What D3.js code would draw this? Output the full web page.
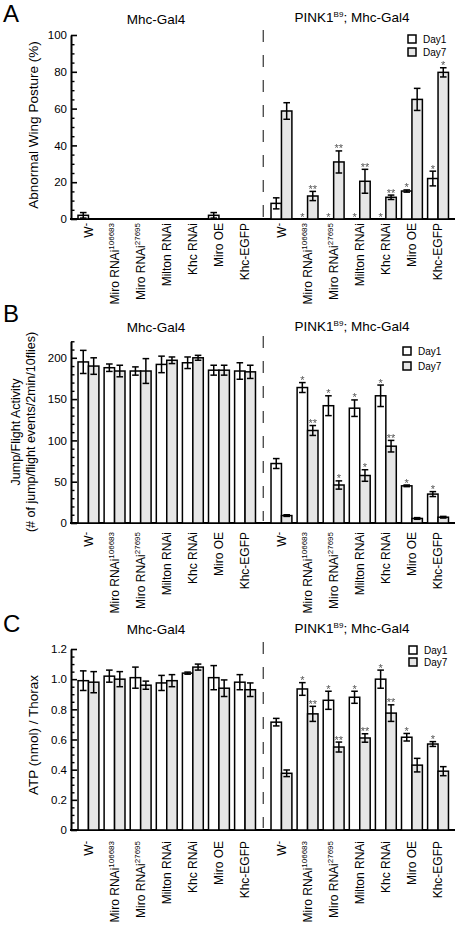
<!DOCTYPE html>
<html><head><meta charset="utf-8">
<script src="https://cdn.jsdelivr.net/npm/d3@7"></script>
<style>
body{margin:0;background:#fff}
svg{display:block;font-family:"Liberation Sans",Arial,Helvetica,sans-serif}
</style>
</head><body><svg id="c" width="456" height="927"></svg>
<script>
// ---------- categories ----------
const categories   = ["W", "Miro RNAi", "Miro RNAi", "Milton RNAi", "Khc RNAi", "Miro OE", "Khc-EGFP"];
const categorySups = ["-", "106683", "27695", "", "", "", ""];
const groupTitles  = ["Mhc-Gal4", "PINK1"];
const seriesNames  = ["Day1", "Day7"];

// ---------- A: Abnormal wing posture (%) ----------
const wingCtrlDay1    = [2, 0, 0, 0, 0, 2, 0];
const wingCtrlDay1Err = [1.5, 0, 0, 0, 0, 1.5, 0];
const wingCtrlDay7    = [0, 0, 0, 0, 0, 0, 0];
const wingCtrlDay7Err = [0, 0, 0, 0, 0, 0, 0];
const wingPinkDay1    = [8.5, 0, 0, 0, 0, 15.2, 22];
const wingPinkDay1Err = [3, 0, 0, 0, 0, 0.6, 4];
const wingPinkDay7    = [58.7, 12.5, 31, 20.5, 11.8, 65, 79.7];
const wingPinkDay7Err = [4.5, 2.5, 6, 6.5, 1.2, 6, 2.5];
const wingSigDay1     = ["", "*", "*", "*", "*", "*", "*"];
const wingSigDay7     = ["", "**", "**", "**", "**", "", "*"];
const wingTicks       = [0, 20, 40, 60, 80, 100];

// ---------- B: Jump/flight activity ----------
const jumpCtrlDay1    = [195, 188, 184, 192, 194, 185, 184];
const jumpCtrlDay1Err = [14, 4.5, 5, 10, 7, 6, 10];
const jumpCtrlDay7    = [190, 184, 184, 197, 200, 185, 183];
const jumpCtrlDay7Err = [10, 7, 15, 4, 3, 6, 8];
const jumpPinkDay1    = [72, 164, 142, 139, 154, 45, 35];
const jumpPinkDay1Err = [6, 6, 12, 10, 13, 1, 3];
const jumpPinkDay7    = [9, 112, 46, 57.5, 93, 5.5, 7];
const jumpPinkDay7Err = [1, 6, 5, 7, 7, 1, 1];
const jumpSigDay1     = ["", "*", "*", "*", "*", "*", "*"];
const jumpSigDay7     = ["", "**", "*", "*", "**", "", ""];
const jumpTicks       = [0, 50, 100, 150, 200];

// ---------- C: ATP (nmol) / Thorax ----------
const atpCtrlDay1    = [0.99, 1.02, 1.01, 0.975, 1.04, 1.01, 0.98];
const atpCtrlDay1Err = [0.065, 0.04, 0.07, 0.05, 0.007, 0.08, 0.05];
const atpCtrlDay7    = [0.98, 1.0, 0.96, 0.99, 1.08, 0.94, 0.93];
const atpCtrlDay7Err = [0.07, 0.05, 0.027, 0.04, 0.02, 0.055, 0.045];
const atpPinkDay1    = [0.715, 0.935, 0.86, 0.88, 1.0, 0.615, 0.57];
const atpPinkDay1Err = [0.025, 0.042, 0.06, 0.04, 0.06, 0.025, 0.016];
const atpPinkDay7    = [0.376, 0.77, 0.55, 0.61, 0.775, 0.43, 0.39];
const atpPinkDay7Err = [0.022, 0.05, 0.033, 0.028, 0.055, 0.045, 0.03];
const atpSigDay1     = ["", "*", "*", "*", "*", "*", "*"];
const atpSigDay7     = ["", "**", "**", "**", "**", "", ""];
const atpTicks       = [0, 0.2, 0.4, 0.6, 0.8, 1.0, 1.2];

// ---------- drawing ----------
const svg = d3.select("#c");
svg.append("defs").append("filter").attr("id", "gray").attr("x", "-20%").attr("y", "-20%")
  .attr("width", "140%").attr("height", "140%").append("feOffset").attr("dx", 0).attr("dy", 0);
const ids = categories.map((c, i) => c + categorySups[i]);
const AXIS_X = 71, X_END = 455;
const xLeft  = d3.scaleBand().domain(ids).range([72.8, 260.7]).padding(0.2);
const xRight = d3.scaleBand().domain(ids).range([265.8, 453.7]).padding(0.2);
const xSub   = d3.scaleBand().domain(seriesNames).range([0, xLeft.bandwidth()]);
const fills  = {Day1: "#ffffff", Day7: "#e6e6e6"};
const dashX  = (xLeft.range()[1] + xRight.range()[0]) / 2;

function drawPanel(cfg) {
  const g = svg.append("g");
  const y = d3.scaleLinear().domain([0, cfg.max]).range([cfg.y0, cfg.yTop]);

  // panel letter
  g.append("text").attr("x", 3).attr("y", cfg.letterY).attr("font-size", 24).text(cfg.letter);

  // group titles
  g.append("text").attr("x", 156).attr("y", cfg.titleY[0]).attr("text-anchor", "middle")
    .attr("font-size", 13.5).text(groupTitles[0]);
  const t2 = g.append("text").attr("x", 352).attr("y", cfg.titleY[1]).attr("text-anchor", "middle")
    .attr("font-size", 13.5);
  t2.append("tspan").text(groupTitles[1]);
  t2.append("tspan").attr("font-size", 8).attr("dy", -5).text("B9");
  t2.append("tspan").attr("dy", 5).text("; Mhc-Gal4");

  // y axis (inward ticks)
  const minorVals = d3.range(0, cfg.max + 1e-9, cfg.minor).filter(v => !cfg.ticks.some(t => Math.abs(t - v) < 1e-9));
  const ay = g.append("g").attr("transform", `translate(${AXIS_X},0)`)
    .call(d3.axisLeft(y).tickValues(cfg.ticks).tickSizeInner(-6).tickSizeOuter(0).tickPadding(4).tickFormat(cfg.fmt));
  ay.select(".domain").attr("stroke-width", 2).attr("stroke", "#000");
  ay.selectAll(".tick line").attr("stroke-width", 1.6);
  ay.selectAll(".tick text").attr("font-size", 11.5).attr("font-family", "Liberation Sans, Arial, sans-serif").attr("fill", "#000");
  const am = g.append("g").attr("transform", `translate(${AXIS_X},0)`)
    .call(d3.axisLeft(y).tickValues(minorVals).tickSizeInner(-3.5).tickSizeOuter(0).tickFormat(""));
  am.select(".domain").remove();
  am.selectAll(".tick line").attr("stroke-width", 1.4);

  // x axis line
  g.append("line").attr("x1", AXIS_X - 1).attr("x2", X_END).attr("y1", cfg.y0).attr("y2", cfg.y0)
    .attr("stroke", "#000").attr("stroke-width", 2);

  // dashed separator
  g.append("line").attr("x1", dashX).attr("x2", dashX).attr("y1", cfg.dashTop).attr("y2", cfg.y0 - 2)
    .attr("stroke", "#333").attr("stroke-width", 1.2).attr("stroke-dasharray", "12,13");

  // bars
  const groupsData = [
    {x: xLeft,  vals: [cfg.c1, cfg.c7], errs: [cfg.c1e, cfg.c7e], sigs: [null, null]},
    {x: xRight, vals: [cfg.p1, cfg.p7], errs: [cfg.p1e, cfg.p7e], sigs: [cfg.s1, cfg.s7]}
  ];
  const rows = [];
  groupsData.forEach(gd => {
    ids.forEach((id, i) => {
      seriesNames.forEach((s, k) => {
        rows.push({x: gd.x(id) + xSub(s), w: xSub.bandwidth(), s,
          v: gd.vals[k][i], e: gd.errs[k][i], sig: gd.sigs[k] ? gd.sigs[k][i] : ""});
      });
    });
  });
  g.selectAll("rect.bar").data(rows.filter(r => r.v > 0)).join("rect").attr("class", "bar")
    .attr("x", r => r.x).attr("width", r => r.w)
    .attr("y", r => y(r.v)).attr("height", r => cfg.y0 - y(r.v))
    .attr("fill", r => fills[r.s]).attr("stroke", "#000").attr("stroke-width", 1.5);

  const eb = g.selectAll("g.err").data(rows.filter(r => r.e > 0)).join("g").attr("class", "err")
    .attr("stroke", "#000").attr("stroke-width", 1.5);
  eb.append("line").attr("x1", r => r.x + r.w / 2).attr("x2", r => r.x + r.w / 2)
    .attr("y1", r => y(r.v - r.e)).attr("y2", r => y(r.v + r.e));
  eb.append("line").attr("x1", r => r.x + r.w / 2 - 3.3).attr("x2", r => r.x + r.w / 2 + 3.3)
    .attr("y1", r => y(r.v - r.e)).attr("y2", r => y(r.v - r.e));
  eb.append("line").attr("x1", r => r.x + r.w / 2 - 3.3).attr("x2", r => r.x + r.w / 2 + 3.3)
    .attr("y1", r => y(r.v + r.e)).attr("y2", r => y(r.v + r.e));

  g.append("g").attr("filter", "url(#gray)")
    .selectAll("text.sig").data(rows.filter(r => r.sig)).join("text").attr("class", "sig")
    .attr("x", r => r.x + r.w / 2).attr("y", r => y(r.v + r.e) + 1.5)
    .attr("text-anchor", "middle").attr("font-size", 11).attr("fill", "#555")
    .text(r => r.sig);

  // category labels
  [xLeft, xRight].forEach(sc => {
    ids.forEach((id, i) => {
      const t = g.append("text")
        .attr("transform", `translate(${sc(id) + sc.bandwidth() / 2},${cfg.y0 + cfg.labelOff}) rotate(-90)`)
        .attr("text-anchor", "end").attr("dy", "0.36em").attr("font-size", 12);
      t.append("tspan").text(categories[i]);
      if (categorySups[i] === "-") t.append("tspan").attr("font-size", 10).attr("dy", -3.5).text("-");
      else if (categorySups[i]) t.append("tspan").attr("font-size", 8).attr("dy", -4.5).text(categorySups[i]);
    });
  });

  // legend
  seriesNames.forEach((s, k) => {
    g.append("rect").attr("x", cfg.legend[0]).attr("y", cfg.legend[1] + k * cfg.legend[2])
      .attr("width", 8).attr("height", 8).attr("fill", fills[s]).attr("stroke", "#000").attr("stroke-width", 1.5);
    g.append("text").attr("x", cfg.legend[0] + 15).attr("y", cfg.legend[1] + k * cfg.legend[2] + 8)
      .attr("font-size", 10).text(s);
  });

  // y title
  cfg.ytitle.forEach((line, j) => {
    g.append("text").attr("transform", `translate(${line.x},${cfg.ytitleY}) rotate(-90)`)
      .attr("text-anchor", "middle").attr("font-size", cfg.ytitleSize).text(line.t);
  });
}

drawPanel({letter: "A", letterY: 22, titleY: [23.5, 21.7], y0: 219, yTop: 35, max: 100,
  ticks: wingTicks, minor: 5, fmt: d3.format("d"), dashTop: 30, labelOff: 4,
  c1: wingCtrlDay1, c1e: wingCtrlDay1Err, c7: wingCtrlDay7, c7e: wingCtrlDay7Err,
  p1: wingPinkDay1, p1e: wingPinkDay1Err, p7: wingPinkDay7, p7e: wingPinkDay7Err,
  s1: wingSigDay1, s7: wingSigDay7, legend: [408, 35, 13],
  ytitle: [{x: 38, t: "Abnormal Wing Posture (%)"}], ytitleY: 125, ytitleSize: 13.5});

drawPanel({letter: "B", letterY: 322, titleY: [332.3, 330.7], y0: 523, yTop: 523 - 220 * 0.826, max: 220,
  ticks: jumpTicks, minor: 10, fmt: d3.format("d"), dashTop: 336, labelOff: 9,
  c1: jumpCtrlDay1, c1e: jumpCtrlDay1Err, c7: jumpCtrlDay7, c7e: jumpCtrlDay7Err,
  p1: jumpPinkDay1, p1e: jumpPinkDay1Err, p7: jumpPinkDay7, p7e: jumpPinkDay7Err,
  s1: jumpSigDay1, s7: jumpSigDay7, legend: [403, 347, 15],
  ytitle: [{x: 20, t: "Jump/Flight Activity"}, {x: 35, t: "(# of jump/flight events/2min/10flies)"}],
  ytitleY: 432, ytitleSize: 12.5});

drawPanel({letter: "C", letterY: 632, titleY: [634, 633.3], y0: 830, yTop: 649, max: 1.2,
  ticks: atpTicks, minor: 0.05, fmt: d => d === 0 ? "0" : d3.format(".1f")(d), dashTop: 642, labelOff: 11,
  c1: atpCtrlDay1, c1e: atpCtrlDay1Err, c7: atpCtrlDay7, c7e: atpCtrlDay7Err,
  p1: atpPinkDay1, p1e: atpPinkDay1Err, p7: atpPinkDay7, p7e: atpPinkDay7Err,
  s1: atpSigDay1, s7: atpSigDay7, legend: [409, 646, 12],
  ytitle: [{x: 38, t: "ATP (nmol) / Thorax"}], ytitleY: 735, ytitleSize: 13.5});
</script>
</body></html>
